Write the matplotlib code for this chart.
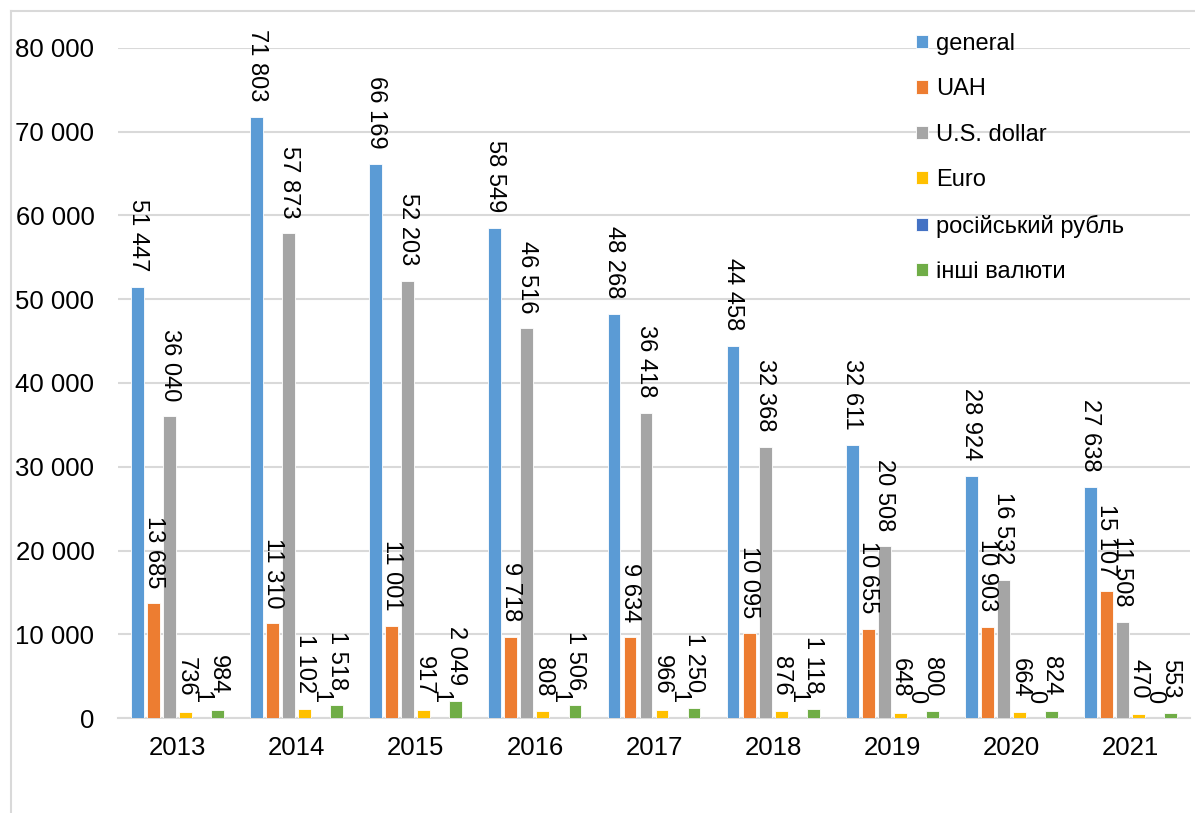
import matplotlib
matplotlib.use("Agg")
import matplotlib.pyplot as plt
from matplotlib.lines import Line2D
import numpy as np

plt.rcParams['font.family'] = ['Liberation Sans', 'DejaVu Sans']

years = ["2013", "2014", "2015", "2016", "2017", "2018", "2019", "2020", "2021"]
general = [51447, 71803, 66169, 58549, 48268, 44458, 32611, 28924, 27638]
uah = [13685, 11310, 11001, 9718, 9634, 10095, 10655, 10903, 15107]
usd = [36040, 57873, 52203, 46516, 36418, 32368, 20508, 16532, 11508]
euro = [736, 1102, 917, 808, 966, 876, 648, 664, 470]
rub = [1, 1, 1, 1, 1, 1, 0, 0, 0]
other = [984, 1518, 2049, 1506, 1250, 1118, 800, 824, 553]

series_names = ["general", "UAH", "U.S. dollar", "Euro", "російський рубль", "інші валюти"]
series_values = [general, uah, usd, euro, rub, other]
colors = ["#5B9BD5", "#ED7D31", "#A5A5A5", "#FFC000", "#4472C4", "#70AD47"]


def fmt(v):
    return f"{v:,}".replace(",", " ")


fig = plt.figure(figsize=(11.95, 8.13), dpi=100)
ax = fig.add_axes([118 / 1195, 1 - 718 / 813, 1072 / 1195, 670 / 813])

x = np.arange(len(years))
step = 0.1345
width = 0.108
for i, (name, vals, col) in enumerate(zip(series_names, series_values, colors)):
    pos = x + (i - 2.5) * step
    ax.bar(pos, vals, width, color=col, label=name, edgecolor="white", linewidth=0.6, zorder=3)
    for xp, v in zip(pos, vals):
        ax.annotate(fmt(v), (xp, v), xytext=(0, 11), textcoords="offset points",
                    rotation=-90, ha="center", va="bottom", fontsize=17,
                    annotation_clip=False, zorder=4)

ax.set_xlim(-0.5, len(years) - 0.5)
ax.set_ylim(0, 80000)
ax.set_yticks(np.arange(0, 80001, 10000))
ax.set_yticklabels([fmt(t) for t in range(0, 80001, 10000)])
ax.set_xticks(x)
ax.set_xticklabels(years)
ax.tick_params(axis="both", length=0, labelsize=18.5)
ax.tick_params(axis="y", pad=17)
ax.tick_params(axis="x", pad=13)
ax.grid(axis="y", color="#D9D9D9", linewidth=1.5, zorder=0)
ax.set_axisbelow(True)
for s in ["top", "right", "left"]:
    ax.spines[s].set_visible(False)
ax.spines["bottom"].set_color("#D9D9D9")
ax.spines["bottom"].set_linewidth(1.5)

ax.legend(loc="upper left", bbox_to_anchor=(916 / 1195, 1 - 33 / 813),
          bbox_transform=fig.transFigure, frameon=False, fontsize=17,
          handlelength=0.5, handleheight=0.5, handletextpad=0.35,
          labelspacing=0.99, borderpad=0, borderaxespad=0)

# chart area border
fig.add_artist(Line2D([11 / 1195, 11 / 1195], [0, 1 - 11 / 813], color="#D9D9D9", linewidth=1.5))
fig.add_artist(Line2D([11 / 1195, 1], [1 - 11 / 813, 1 - 11 / 813], color="#D9D9D9", linewidth=1.5))

fig.savefig("out.png", dpi=100)
